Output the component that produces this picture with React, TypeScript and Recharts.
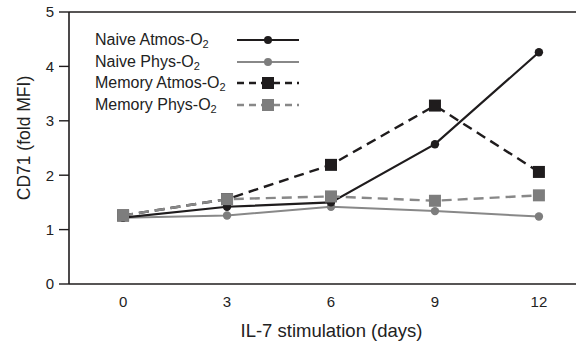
import React from 'react';
import { LineChart, Line, XAxis, YAxis, ReferenceLine } from 'recharts';

const days = [0, 3, 6, 9, 12];
const naiveAtmos = [1.22, 1.42, 1.5, 2.57, 4.26];
const naivePhys = [1.22, 1.26, 1.42, 1.34, 1.24];
const memoryAtmos = [1.26, 1.56, 2.19, 3.28, 2.06];
const memoryPhys = [1.26, 1.56, 1.61, 1.53, 1.63];
const yTicks = [0, 1, 2, 3, 4, 5];

const BLACK = '#1f1c1d';
const GRAY = '#7d7d7d';
const GRAY_LINE = '#888888';
const FONT = '"Liberation Sans", Arial, Helvetica, sans-serif';

const data = days.map((d, i) => ({
  day: d,
  naiveAtmos: naiveAtmos[i],
  naivePhys: naivePhys[i],
  memoryAtmos: memoryAtmos[i],
  memoryPhys: memoryPhys[i],
}));

const series = [
  { key: 'naiveAtmos', name: 'Naive Atmos-O', color: BLACK, lineColor: BLACK, dashed: false, square: false },
  { key: 'naivePhys', name: 'Naive Phys-O', color: GRAY, lineColor: GRAY_LINE, dashed: false, square: false },
  { key: 'memoryAtmos', name: 'Memory Atmos-O', color: BLACK, lineColor: BLACK, dashed: true, square: true },
  { key: 'memoryPhys', name: 'Memory Phys-O', color: GRAY, lineColor: GRAY_LINE, dashed: true, square: true },
];

const makeSquare = (color: string) => (props: any) => {
  const { cx, cy, index } = props;
  const s = 12;
  return <rect key={`sq-${index}`} x={cx - s / 2} y={cy - s / 2} width={s} height={s} fill={color} />;
};

const makeCircle = (color: string) => (props: any) => {
  const { cx, cy, index } = props;
  return <circle key={`c-${index}`} cx={cx} cy={cy} r={4.2} fill={color} />;
};

const YTitle = () => (
  <text
    x={24}
    y={138}
    transform="rotate(-90 24 138)"
    textAnchor="middle"
    dominantBaseline="central"
    fill="#222"
    fontSize={17.5}
    fontFamily={FONT}
  >
    CD71 (fold MFI)
  </text>
);

const LegendBox = () => (
  <div
    style={{
      position: 'absolute',
      left: 95,
      top: 29,
      fontFamily: FONT,
      fontSize: 16,
      color: '#222',
      lineHeight: 'normal',
    }}
  >
    {series.map((s) => (
      <div key={s.key} style={{ display: 'flex', alignItems: 'center', height: 21.7 }}>
        <div style={{ width: 142, whiteSpace: 'nowrap' }}>
          {s.name}
          <span style={{ fontSize: 11, position: 'relative', top: 3 }}>2</span>
        </div>
        <svg width={62} height={14}>
          <line
            x1={0}
            y1={7}
            x2={62}
            y2={7}
            stroke={s.lineColor}
            strokeWidth={s.dashed ? 2.4 : 2.2}
            strokeDasharray={s.dashed ? '7 5' : undefined}
          />
          {s.square ? (
            <rect x={25} y={1} width={12} height={12} fill={s.color} />
          ) : (
            <circle cx={31} cy={7} r={4} fill={s.color} />
          )}
        </svg>
      </div>
    ))}
  </div>
);

export default function App() {
  return (
    <div style={{ position: 'absolute', left: 0, top: 0, width: 581, height: 341 }}>
      <LineChart
        width={581}
        height={341}
        data={data}
        margin={{ top: 12, right: 5, bottom: 0, left: 0 }}
      >
        <XAxis
          dataKey="day"
          type="number"
          domain={[-1.56, 13.07]}
          ticks={days}
          allowDataOverflow
          tickLine={false}
          tickSize={6}
          tickMargin={6}
          height={57}
          axisLine={{ stroke: BLACK, strokeWidth: 1.6 }}
          tick={{ fill: '#222', fontSize: 15, fontFamily: FONT }}
          label={{
            value: 'IL-7 stimulation (days)',
            position: 'insideBottom',
            offset: 4,
            dx: 9,
            style: { fill: '#222', fontSize: 18.5, fontFamily: FONT },
          }}
        />
        <YAxis
          type="number"
          domain={[0, 5]}
          ticks={yTicks}
          width={69}
          tickSize={10}
          tickMargin={5}
          axisLine={{ stroke: BLACK, strokeWidth: 1.6 }}
          tickLine={{ stroke: BLACK, strokeWidth: 1.4 }}
          tick={{ fill: '#222', fontSize: 15, fontFamily: FONT }}
          label={<YTitle />}
        />
        <ReferenceLine y={5} stroke={BLACK} strokeWidth={1.6} ifOverflow="visible" />
        <Line
          dataKey="naivePhys"
          stroke={GRAY_LINE}
          strokeWidth={2}
          dot={makeCircle(GRAY)}
          activeDot={false}
          isAnimationActive={false}
        />
        <Line
          dataKey="naiveAtmos"
          stroke={BLACK}
          strokeWidth={2.2}
          dot={makeCircle(BLACK)}
          activeDot={false}
          isAnimationActive={false}
        />
        <Line
          dataKey="memoryAtmos"
          stroke={BLACK}
          strokeWidth={2.4}
          strokeDasharray="10 6"
          dot={makeSquare(BLACK)}
          activeDot={false}
          isAnimationActive={false}
        />
        <Line
          dataKey="memoryPhys"
          stroke={GRAY_LINE}
          strokeWidth={2.4}
          strokeDasharray="10 6"
          dot={makeSquare(GRAY)}
          activeDot={false}
          isAnimationActive={false}
        />
      </LineChart>
      <LegendBox />
    </div>
  );
}
